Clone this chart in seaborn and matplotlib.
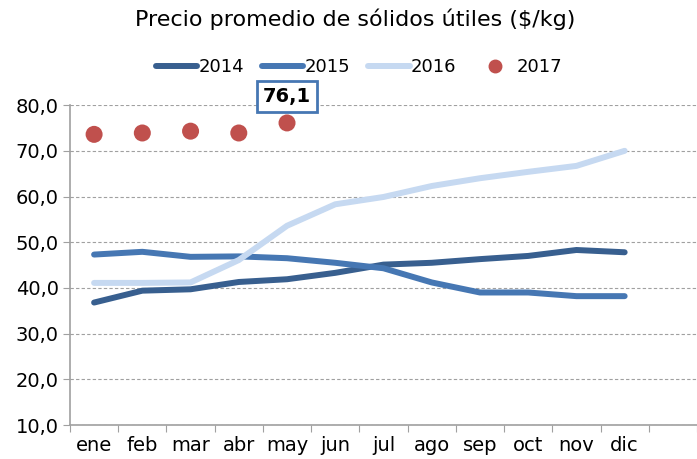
import numpy as np
import pandas as pd
import matplotlib
matplotlib.use('Agg')
import matplotlib.pyplot as plt
import seaborn as sns
from matplotlib.ticker import FuncFormatter, FixedLocator
from matplotlib.lines import Line2D

# month labels and yearly series ($/kg)
meses = ['ene', 'feb', 'mar', 'abr', 'may', 'jun', 'jul', 'ago', 'sep', 'oct', 'nov', 'dic']
v2014 = [36.8, 39.4, 39.7, 41.3, 41.9, 43.3, 45.1, 45.5, 46.3, 47.0, 48.3, 47.8]
v2015 = [47.3, 47.9, 46.8, 46.9, 46.5, 45.5, 44.3, 41.2, 39.0, 39.0, 38.2, 38.2]
v2016 = [41.1, 41.1, 41.2, 46.1, 53.6, 58.3, 59.9, 62.3, 64.0, 65.4, 66.7, 70.0]
v2017 = [73.6, 73.9, 74.3, 73.9, 76.1]

colores = {'2014': '#385F8F', '2015': '#4677B3', '2016': '#C6D9F1'}
rojo = '#C0504D'

sns.set_style('white')
plt.rcParams['font.family'] = ['DejaVu Sans']
plt.rcParams['text.color'] = 'black'
plt.rcParams['xtick.color'] = 'black'
plt.rcParams['ytick.color'] = 'black'

df = pd.DataFrame({
    'mes': list(range(12)) * 3,
    'valor': v2014 + v2015 + v2016,
    'anio': ['2014'] * 12 + ['2015'] * 12 + ['2016'] * 12,
})
df17 = pd.DataFrame({'mes': range(len(v2017)), 'valor': v2017})

fig = plt.figure(figsize=(6.97, 4.59), dpi=100)
ax = fig.add_axes([0.1004, 0.074, 0.8996, 0.697])

sns.lineplot(data=df, x='mes', y='valor', hue='anio', palette=colores,
             linewidth=4.3, solid_capstyle='round', legend=False, ax=ax)
sns.scatterplot(data=df17, x='mes', y='valor', color=rojo, s=150,
                edgecolor='none', legend=False, ax=ax, zorder=5)

ax.set_xlim(-0.5, 12.5)
ax.set_ylim(10, 80)
ax.set_xlabel('')
ax.set_ylabel('')

# ticks between categories, labels centered
ax.xaxis.set_major_locator(FixedLocator(np.arange(-0.5, 13, 1)))
ax.xaxis.set_minor_locator(FixedLocator(np.arange(12)))
ax.set_xticklabels([])
ax.set_xticklabels(meses, minor=True)
ax.tick_params(axis='x', which='major', length=5, color='#A0A0A0', direction='out', bottom=True)
ax.tick_params(axis='x', which='minor', length=0, labelsize=14, pad=8)
ax.set_yticks(np.arange(10, 81, 10))
ax.yaxis.set_major_formatter(FuncFormatter(lambda v, p: f'{v:.1f}'.replace('.', ',')))
ax.tick_params(axis='y', length=5, color='#A0A0A0', direction='out', left=True, labelsize=14, pad=3)

ax.grid(axis='y', color='#A0A0A0', linestyle=(0, (3, 2)), linewidth=0.8)
ax.set_axisbelow(True)
for s in ['top', 'right']:
    ax.spines[s].set_visible(False)
for s in ['left', 'bottom']:
    ax.spines[s].set_color('#A0A0A0')
    ax.spines[s].set_linewidth(1.2)

# data label for last 2017 value
ax.annotate(f'{v2017[-1]:.1f}'.replace('.', ','), xy=(4, v2017[-1]), xytext=(0, 19),
            textcoords='offset points', ha='center', va='center', fontsize=14,
            fontweight='bold',
            bbox=dict(boxstyle='square,pad=0.3', fc='white', ec='#4677B3', lw=2))

fig.text(0.51, 0.958, 'Precio promedio de sólidos útiles ($/kg)', ha='center', va='center',
         fontsize=16)

handles = [Line2D([], [], color=colores[k], lw=4.3, solid_capstyle='round') for k in colores]
handles.append(Line2D([], [], color=rojo, lw=0, marker='o', markersize=9))
fig.legend(handles, ['2014', '2015', '2016', '2017'], loc='center', bbox_to_anchor=(0.515, 0.853),
           ncol=4, frameon=False, fontsize=13, handlelength=2.3, handletextpad=0.05,
           columnspacing=1.0)

fig.savefig('out.png', dpi=100)
